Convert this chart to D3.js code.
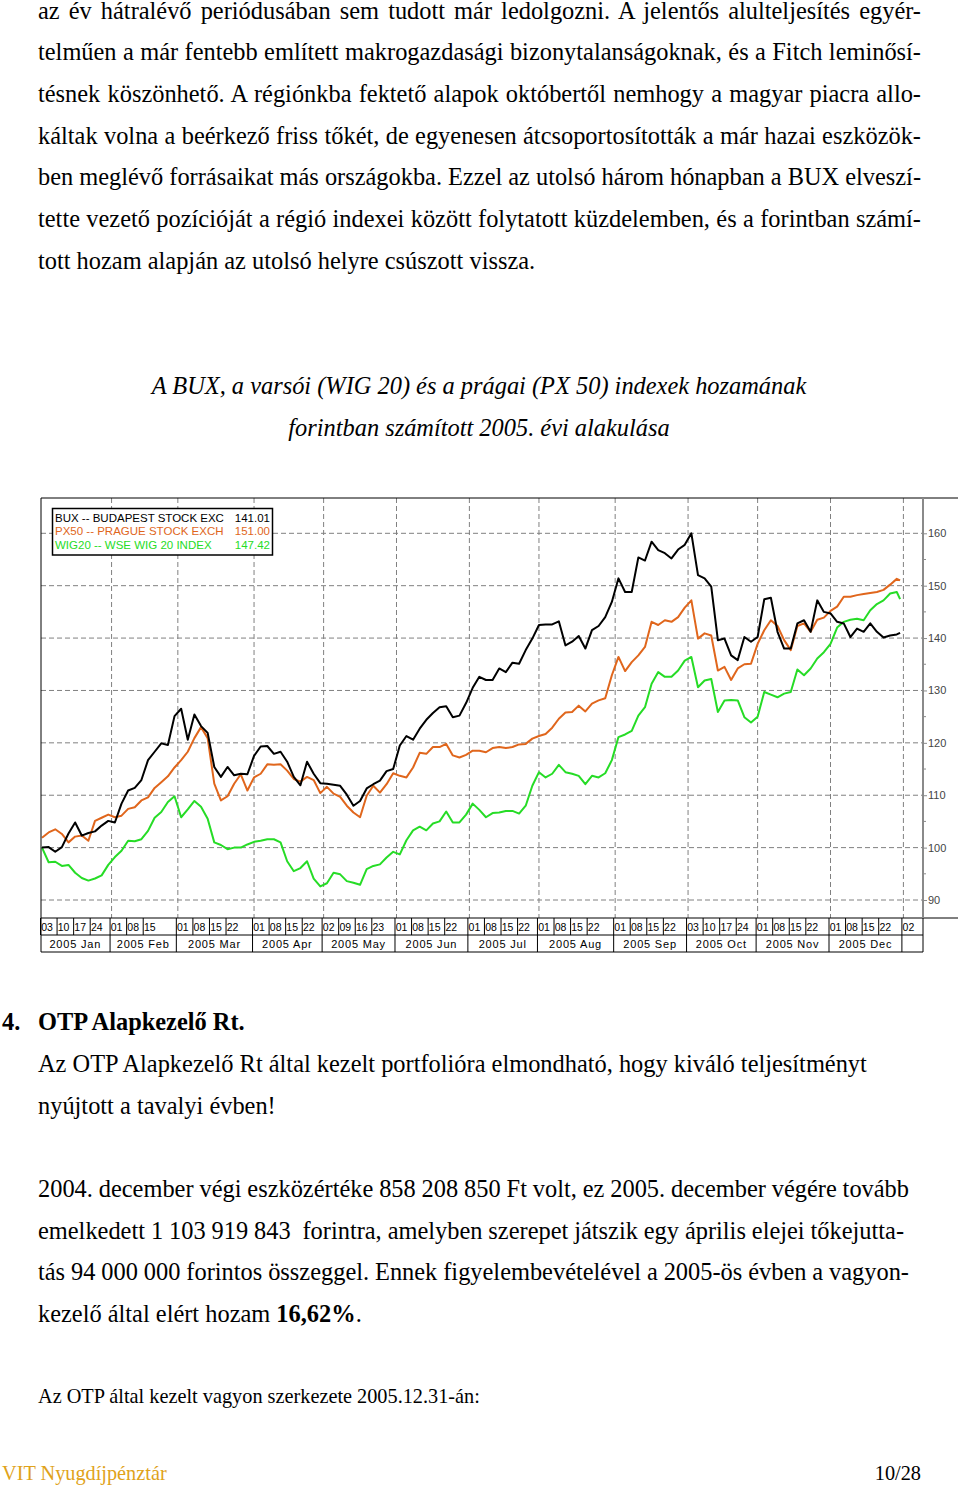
<!DOCTYPE html>
<html><head><meta charset="utf-8">
<script src="https://cdn.jsdelivr.net/npm/d3@7"></script>
<style>html,body{margin:0;padding:0;background:#fff}svg{display:block}</style>
</head><body>
<svg id="page" width="960" height="1489"></svg>
<script>
// ---------- DATA ----------
const seriesNames = ["BUX -- BUDAPEST STOCK EXC", "PX50 -- PRAGUE STOCK EXCH", "WIG20 -- WSE WIG 20 INDEX"];
const lastValues = ["141.01", "151.00", "147.42"];
// trading-day index (0 = 2005-01-03) of each sample
const sampleDays = d3.range(0, 259, 2).concat([259]);
const buxValues = [
  100.0,100.1,99.2,100.1,102.7,104.8,102.3,102.8,103.1,104.2,105.1,104.8,108.4,110.9,111.4,112.9,116.7,118.3,119.9,119.6,
  125.1,126.5,120.6,125.4,123.2,121.9,115.4,113.5,115.4,113.8,114.1,114.0,117.5,119.3,119.4,117.9,118.3,116.4,113.5,111.9,
  116.4,114.1,112.3,112.2,112.0,
  111.8,110.1,108.0,108.9,111.3,112.1,112.8,114.6,115.0,119.5,121.3,120.6,122.7,124.4,125.7,126.8,127.0,124.9,125.2,127.6,
  130.5,132.6,132.0,132.0,134.2,133.5,135.3,135.1,137.7,139.9,142.5,142.6,142.6,143.2,138.6,139.3,140.4,138.0,141.5,142.3,
  144.0,146.9,151.4,148.8,
  148.8,155.4,154.8,158.4,156.8,156.2,155.2,156.9,157.8,160.0,152.0,151.4,149.8,139.6,139.9,136.7,135.8,140.2,139.3,140.2,
  147.4,147.7,141.2,138.0,138.0,142.8,143.4,141.2,147.2,145.0,144.7,143.1,142.8,140.2,141.8,141.2,142.8,141.2,140.1,140.5,
  140.7,141.01
];
const pxValues = [
  101.9,102.9,103.5,102.6,101.0,102.1,102.3,101.3,105.1,105.7,106.3,105.8,106.1,107.4,107.7,109.0,109.6,111.4,112.5,113.6,
  115.3,116.7,118.3,120.9,123.0,120.9,112.2,109.0,109.8,112.2,114.0,110.9,113.4,114.1,115.9,115.8,115.9,114.7,113.1,112.6,
  113.5,112.9,110.4,111.6,110.3,
  109.7,108.0,106.7,105.8,109.9,111.8,110.5,112.1,114.2,113.7,113.4,115.3,118.1,117.9,119.2,119.2,119.8,117.6,117.2,117.7,
  118.5,118.5,118.2,119.0,119.2,119.0,119.2,119.7,119.8,120.8,121.3,121.7,122.9,124.6,125.8,125.9,127.1,126.0,127.5,128.1,
  128.5,132.9,136.4,133.7,
  135.4,136.7,138.3,143.1,142.5,143.4,143.1,144.0,145.8,147.2,139.9,140.9,140.5,133.8,134.5,132.0,134.2,135.0,135.1,138.9,
  141.5,143.4,142.3,139.6,137.7,142.3,142.8,141.2,143.5,143.9,145.2,146.0,147.9,147.9,148.2,148.4,148.6,148.8,149.2,150.2,
  151.3,151.00
];
const wigValues = [
  100.0,97.2,97.3,96.5,96.7,95.2,94.2,93.7,94.1,94.7,96.7,98.2,99.4,101.3,101.2,101.6,103.2,105.7,106.8,108.7,
  109.8,105.8,107.3,108.9,107.8,105.5,101.0,100.5,99.7,100.0,100.0,100.6,101.1,101.3,101.6,101.6,101.0,97.4,95.5,96.1,
  97.4,94.1,92.6,93.2,95.2,
  94.9,93.6,93.3,92.9,95.9,96.5,96.8,98.1,99.2,98.7,101.4,103.3,104.0,103.3,104.6,105.0,106.9,104.8,104.8,106.3,
  108.4,107.2,105.8,106.6,106.7,107.0,107.0,106.5,108.0,111.8,114.4,113.4,114.1,115.8,114.4,114.1,113.7,112.1,113.7,113.4,
  114.2,116.7,121.1,121.6,
  122.3,125.2,126.8,131.3,133.5,132.6,132.6,133.8,135.7,136.4,130.6,131.9,132.2,125.9,128.1,128.2,128.1,124.9,123.9,125.0,
  129.7,129.2,128.7,129.4,129.7,134.0,132.9,134.2,136.1,137.3,138.9,142.0,143.1,143.5,143.7,143.4,145.3,146.5,147.2,148.5,
  148.8,147.42
];
const monthLabels = ["2005 Jan","2005 Feb","2005 Mar","2005 Apr","2005 May","2005 Jun","2005 Jul","2005 Aug","2005 Sep","2005 Oct","2005 Nov","2005 Dec",""];
const monthStartDays = [0,21,41,64,85,107,129,150,173,195,216,238,260,261];
const dateTickDays = [0,5,10,15, 21,26,31, 41,46,51,56, 64,69,74,79, 85,90,95,100, 107,112,117,122, 129,134,139,144,
  150,155,160,165, 173,178,183,188, 195,200,205,210, 216,221,226,231, 238,243,248,253, 260];
const dateTickLabels = ["03","10","17","24","01","08","15","01","08","15","22","01","08","15","22","02","09","16","23",
  "01","08","15","22","01","08","15","22","01","08","15","22","01","08","15","22","03","10","17","24",
  "01","08","15","22","01","08","15","22","02"];
const yTicks = [90,100,110,120,130,140,150,160];
const yMinorTicks = [95,105,115,125,135,145,155];

const chartTitle = ["A BUX, a varsói (WIG 20) és a prágai (PX 50) indexek hozamának", "forintban számított 2005. évi alakulása"];
const para1 = [
  "az év hátralévő periódusában sem tudott már ledolgozni. A jelentős alulteljesítés egyér-",
  "telműen a már fentebb említett makrogazdasági bizonytalanságoknak, és a Fitch leminősí-",
  "tésnek köszönhető. A régiónkba fektető alapok októbertől nemhogy a magyar piacra allo-",
  "káltak volna a beérkező friss tőkét, de egyenesen átcsoportosították a már hazai eszközök-",
  "ben meglévő forrásaikat más országokba. Ezzel az utolsó három hónapban a BUX elveszí-",
  "tette vezető pozícióját a régió indexei között folytatott küzdelemben, és a forintban számí-",
  "tott hozam alapján az utolsó helyre csúszott vissza."
];
const para2 = [
  "Az OTP Alapkezelő Rt által kezelt portfolióra elmondható, hogy kiváló teljesítményt",
  "nyújtott a tavalyi évben!"
];
const para3 = [
  "2004. december végi eszközértéke 858 208 850 Ft volt, ez 2005. december végére tovább",
  "emelkedett 1 103 919 843  forintra, amelyben szerepet játszik egy április elejei tőkejutta-",
  "tás 94 000 000 forintos összeggel. Ennek figyelembevételével a 2005-ös évben a vagyon-"
];

// ---------- PAGE ----------
const svg = d3.select("#page");
svg.append("rect").attr("width",960).attr("height",1489).attr("fill","#fff");
const serif = "'Liberation Serif','Times New Roman',serif";
const sans = "'Liberation Sans',Arial,sans-serif";
const FS = 24.4;

function textLine(str, x, y, o = {}) {
  const t = svg.append("text").attr("x", x).attr("y", y)
    .attr("font-family", o.family || serif).attr("font-size", o.size || FS)
    .attr("font-weight", o.weight || "normal").attr("font-style", o.style || "normal")
    .attr("fill", o.fill || "#000").attr("text-anchor", o.anchor || "start")
    .style("white-space", "pre").text(str);
  if (o.width) {
    const nat = t.node().getComputedTextLength();
    const spaces = (str.match(/ /g) || []).length;
    if (spaces > 0) t.attr("word-spacing", ((o.width - nat) / spaces).toFixed(3));
  }
  return t;
}

const LH = 41.7;
para1.forEach((s, i) => textLine(s, 38, 18.5 + i * LH, i < para1.length - 1 ? {width: 883} : {}));

chartTitle.forEach((s, i) => textLine(s, 479, 394 + i * 42, {anchor: "middle", style: "italic"}));

textLine("4.", 2, 1030, {weight: "bold"});
textLine("OTP Alapkezelő Rt.", 38, 1030, {weight: "bold"});
para2.forEach((s, i) => textLine(s, 38, 1072 + i * LH));
para3.forEach((s, i) => textLine(s, 38, 1197 + i * LH, {width: [871, 866, 871][i]}));
{
  const t = textLine("kezelő által elért hozam ", 38, 1197 + 3 * LH);
  t.append("tspan").attr("font-weight", "bold").text("16,62%");
  t.append("tspan").text(".");
}
textLine("Az OTP által kezelt vagyon szerkezete 2005.12.31-án:", 38, 1403, {size: 20.3});
textLine("VIT Nyugdíjpénztár", 2, 1480, {size: 20.3, fill: "#e0a21a"});
textLine("10/28", 921, 1480, {size: 20.3, anchor: "end"});

// ---------- CHART ----------
const L = 41, T = 498, B = 918, R = 923, TB = 952;
const x = d3.scaleLinear().domain([0, 260]).range([42, 903.4]);
const y = d3.scaleLinear().domain([90, 160]).range([900, 533.3]);
const g = svg.append("g");

// gridlines
const grid = g.append("g").attr("stroke", "#808080").attr("stroke-width", 1).attr("stroke-dasharray", "5,3");
grid.selectAll("line.h").data(yTicks).join("line").attr("class","h")
  .attr("x1", L).attr("x2", R).attr("y1", d => y(d)).attr("y2", d => y(d));
grid.selectAll("line.v").data(monthStartDays.slice(1, 13)).join("line").attr("class","v")
  .attr("x1", d => x(d)).attr("x2", d => x(d)).attr("y1", T).attr("y2", B);

// series lines
const series = [
  {vals: wigValues, color: "#26dc26"},
  {vals: pxValues, color: "#e0661c"},
  {vals: buxValues, color: "#000000"}
];
const lineGen = d3.line().x((d, i) => x(sampleDays[i])).y(d => y(d));
g.selectAll("path.s").data(series).join("path").attr("class","s")
  .attr("d", d => lineGen(d.vals)).attr("fill", "none")
  .attr("stroke", d => d.color).attr("stroke-width", 2).attr("stroke-linejoin", "round");

// frame
const frame = g.append("g").attr("stroke", "#000").attr("stroke-width", 1).attr("fill", "none");
frame.append("line").attr("x1", L).attr("x2", 958).attr("y1", T).attr("y2", T);
frame.append("line").attr("x1", L).attr("x2", L).attr("y1", T).attr("y2", TB);
frame.append("line").attr("x1", L).attr("x2", 958).attr("y1", B).attr("y2", B);
frame.append("line").attr("x1", L).attr("x2", R).attr("y1", 935).attr("y2", 935);
frame.append("line").attr("x1", L).attr("x2", R).attr("y1", TB).attr("y2", TB);
frame.append("line").attr("x1", R).attr("x2", R).attr("y1", B).attr("y2", TB);

// y axis (right)
const yAxis = g.append("g").attr("transform", `translate(${R},0)`)
  .call(d3.axisRight(y).tickValues(yTicks).tickSize(4).tickPadding(1).tickFormat(d3.format("d")));
yAxis.select(".domain").attr("stroke", "#8a8a8a").attr("stroke-width", 2).attr("d", `M0,${T}V${B}`);
yAxis.selectAll(".tick line").attr("stroke", "#8a8a8a");
yAxis.selectAll(".tick text").attr("font-family", sans).attr("font-size", 11).attr("fill", "#444");
g.append("g").selectAll("line").data(yMinorTicks).join("line")
  .attr("x1", R).attr("x2", R + 3).attr("y1", d => y(d)).attr("y2", d => y(d)).attr("stroke", "#8a8a8a");

// date row
const dateRow = g.append("g");
dateRow.selectAll("line").data(dateTickDays).join("line")
  .attr("x1", d => x(d) - 1.5).attr("x2", d => x(d) - 1.5).attr("y1", B).attr("y2", 935)
  .attr("stroke", "#000");
dateRow.selectAll("text").data(dateTickDays).join("text")
  .attr("x", d => x(d) - 0.8).attr("y", 930.5)
  .attr("font-family", sans).attr("font-size", 10.5).attr("fill", "#000")
  .text((d, i) => dateTickLabels[i]);

// month row
const monthRow = g.append("g");
monthRow.selectAll("line").data(monthStartDays.slice(1, 13)).join("line")
  .attr("x1", d => x(d) - 1.5).attr("x2", d => x(d) - 1.5).attr("y1", 935).attr("y2", TB)
  .attr("stroke", "#000");
monthRow.selectAll("text").data(monthLabels.slice(0, 12)).join("text")
  .attr("x", (d, i) => (x(monthStartDays[i]) + x(monthStartDays[i + 1])) / 2 - 1.5)
  .attr("y", 948).attr("text-anchor", "middle")
  .attr("font-family", sans).attr("font-size", 11).attr("letter-spacing", 0.8).attr("fill", "#000")
  .text(d => d);

// legend
const lg = g.append("g");
lg.append("rect").attr("x", 52.5).attr("y", 508.5).attr("width", 220).attr("height", 46.5)
  .attr("fill", "#fff").attr("stroke", "#000").attr("stroke-width", 1.5);
const legendColors = ["#000000", "#e0661c", "#26dc26"];
const legendY = [521.5, 535, 549];
seriesNames.forEach((n, i) => {
  lg.append("text").attr("x", 55).attr("y", legendY[i]).attr("font-family", sans)
    .attr("font-size", 11.5).attr("fill", legendColors[i]).text(n);
  lg.append("text").attr("x", 270).attr("y", legendY[i]).attr("font-family", sans)
    .attr("font-size", 11.5).attr("fill", legendColors[i]).attr("text-anchor", "end").text(lastValues[i]);
});
</script>
</body></html>
